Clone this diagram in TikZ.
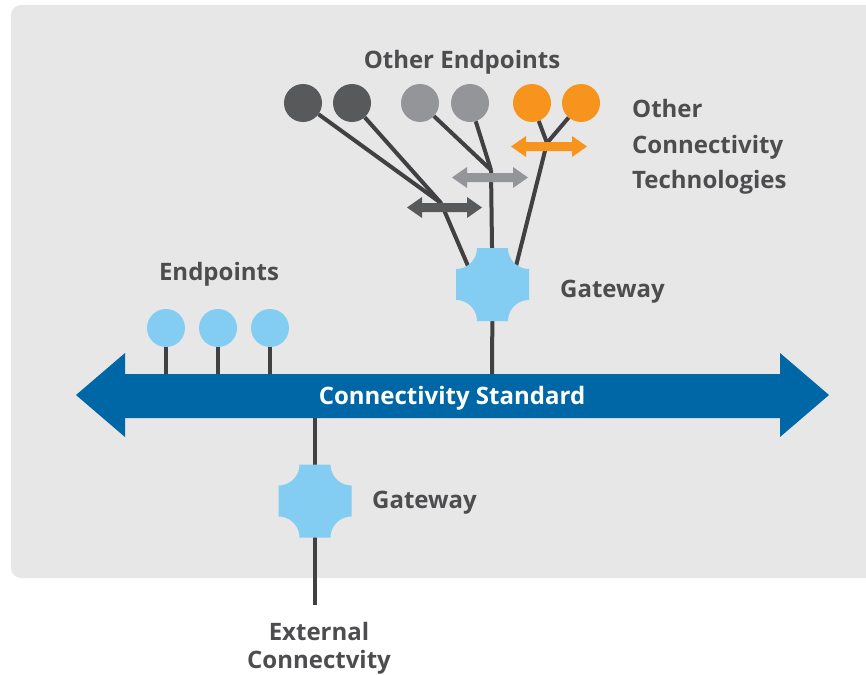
\documentclass[tikz,border=0pt]{standalone}
\usepackage{fontspec}
\setmainfont{Open Sans}
\definecolor{bg}{HTML}{E7E7E7}
\definecolor{txt}{HTML}{4D4D4F}
\definecolor{wire}{HTML}{414042}
\definecolor{dkg}{HTML}{58595B}
\definecolor{ltg}{HTML}{939598}
\definecolor{org}{HTML}{F7941E}
\definecolor{gw}{HTML}{84CDF2}
\definecolor{barblue}{HTML}{0067A7}
% gateway: square with concave quarter-circle corners; #1,#2 = centre
\newcommand\gatewayshape[2]{%
  \fill[gw] (#1-15.5,#2-36.5) -- (#1+15.5,#2-36.5)
    -- plot[domain=180:90, samples=19] ({#1+36.5+21*cos(\x)},{#2-36.5+21*sin(\x)})
    -- (#1+36.5,#2+15.5)
    -- plot[domain=270:180, samples=19] ({#1+36.5+21*cos(\x)},{#2+36.5+21*sin(\x)})
    -- (#1-15.5,#2+36.5)
    -- plot[domain=360:270, samples=19] ({#1-36.5+21*cos(\x)},{#2+36.5+21*sin(\x)})
    -- (#1-36.5,#2-15.5)
    -- plot[domain=90:0, samples=19] ({#1-36.5+21*cos(\x)},{#2-36.5+21*sin(\x)})
    -- cycle;}
\newcommand\dblarr[4]{%
  \fill[#1] (#2,#4) -- (#2+15,#4-10.5) -- (#2+15,#4-4.5) -- (#3-15,#4-4.5) -- (#3-15,#4-10.5)
    -- (#3,#4) -- (#3-15,#4+10.5) -- (#3-15,#4+4.5) -- (#2+15,#4+4.5) -- (#2+15,#4+10.5) -- cycle;}
\begin{document}
\begin{tikzpicture}[x=1pt,y=-1pt,
  lbl/.style={font=\bfseries\fontsize{24}{28}\selectfont, text=txt, inner sep=0},
  wire/.style={draw=wire, line width=4pt},
  ep/.style={circle, minimum size=38pt, inner sep=0},
]
\useasboundingbox (0,0) rectangle (866,674);
\fill[bg, rounded corners=10pt] (11,5) rectangle (900,578);

% other endpoints
\node[ep, fill=dkg] (d1) at (303,103) {};
\node[ep, fill=dkg] (d2) at (352,103) {};
\node[ep, fill=ltg] (l1) at (420,103) {};
\node[ep, fill=ltg] (l2) at (470,103) {};
\node[ep, fill=org] (o1) at (532,103) {};
\node[ep, fill=org] (o2) at (581,103) {};

\coordinate (jd) at (441,203);
\coordinate (jl) at (491,170);
\coordinate (jo) at (547,143);
\coordinate (gd) at (471,273);
\coordinate (go) at (515,270);
\coordinate (gw1) at (492.5,284.5);
\coordinate (gw2) at (315,501);
\coordinate (b1) at (492,385);
\coordinate (b2) at (315,410);
\coordinate (ext) at (315,605);

\draw[wire] (d1) -- (jd);
\draw[wire] (d2) -- (jd);
\draw[wire] (jd) -- (gd);
\draw[wire] (l1) -- (jl);
\draw[wire] (l2) -- (jl);
\draw[wire] (jl) -- (gw1);
\draw[wire] (o1) -- (jo);
\draw[wire] (o2) -- (jo);
\draw[wire] (jo) -- (go);
\draw[wire] (gw1) -- (b1);
\draw[wire] (b2) -- (ext);

% endpoints on the bar
\node[ep, fill=gw] (e1) at (166,328) {};
\node[ep, fill=gw] (e2) at (218,328) {};
\node[ep, fill=gw] (e3) at (270,328) {};
\draw[wire] (e1) -- (166,380);
\draw[wire] (e2) -- (218,380);
\draw[wire] (e3) -- (270,380);

% arrows
\dblarr{dkg}{407}{482}{207.5}
\dblarr{ltg}{452}{528}{177.5}
\dblarr{org}{511}{587}{146.5}

% gateways
\gatewayshape{492.5}{284.5}
\gatewayshape{315}{501}

% bar
\fill[barblue] (76,395) -- (125,353) -- (125,374) -- (780,374) -- (780,353) -- (829,395)
  -- (780,437) -- (780,418) -- (125,418) -- (125,437) -- cycle;
\node[lbl, text=white] (std) at (452,398) {Connectivity Standard};

% labels
\node[lbl] (toe) at (462,62) {Other Endpoints};
\node[lbl, align=left, anchor=west, font=\bfseries\fontsize{24}{35.5}\selectfont] (tech) at (632,147) {Other\\Connectivity\\Technologies};
\node[lbl] (epl) at (219,274) {Endpoints};
\node[lbl, anchor=west] (g1l) at (560,292) {Gateway};
\node[lbl, anchor=west] (g2l) at (372,503) {Gateway};
\node[lbl, align=center, font=\bfseries\fontsize{24}{28}\selectfont] (extl) at (319,648) {External\\Connectvity};
\end{tikzpicture}
\end{document}
